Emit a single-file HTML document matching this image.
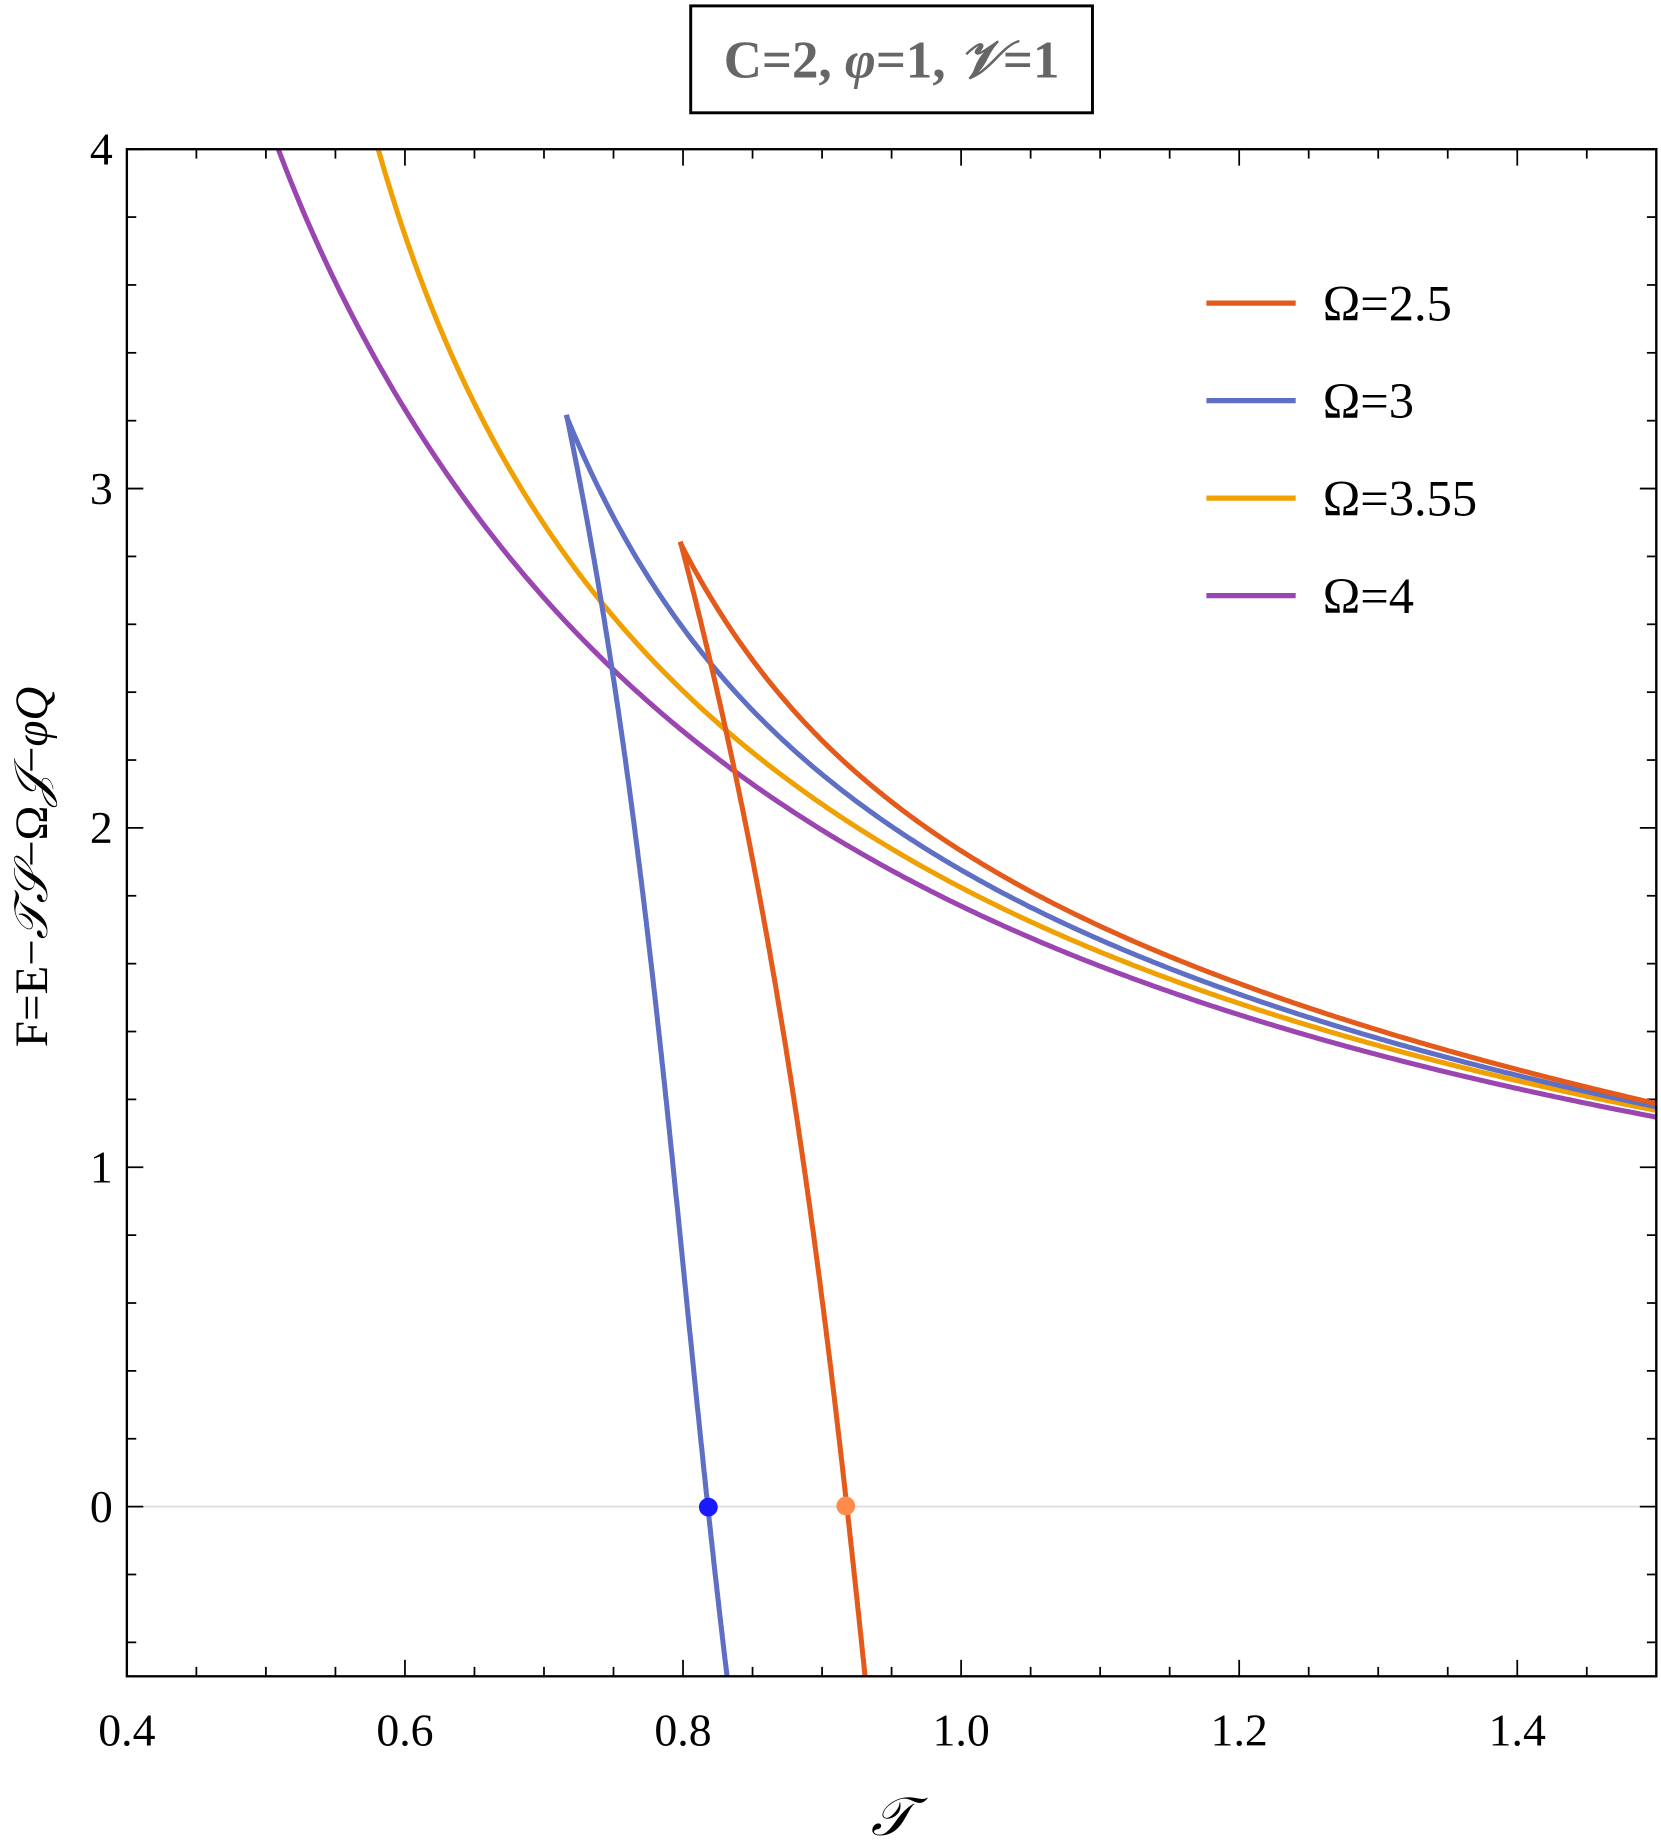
<!DOCTYPE html>
<html><head><meta charset="utf-8"><style>html,body{margin:0;padding:0;background:#fff}svg{display:block}</style></head>
<body>
<svg width="1661" height="1845" viewBox="0 0 1414 1570.6" xmlns="http://www.w3.org/2000/svg" font-family="Liberation Serif, serif">
<defs><clipPath id="cp"><rect x="108" y="127" width="1302" height="1300"/></clipPath></defs>
<rect x="588" y="5" width="342" height="91" fill="#fff" stroke="#000" stroke-width="2.5"/>
<text x="759" y="66" text-anchor="middle" font-size="45" font-weight="bold" fill="#666">C=2, <tspan font-style="italic">φ</tspan>=1, <tspan font-style="italic">𝒱</tspan>=1</text>
<line x1="108" y1="1282.6" x2="1410" y2="1282.6" stroke="#ddd" stroke-width="1.5"/>
<g id="ticks" stroke="#000" stroke-width="1.5"></g>
<g id="curves" fill="none" stroke-width="4.3" stroke-linejoin="round" clip-path="url(#cp)"></g>
<circle cx="603" cy="1283" r="8" fill="#1a1aff"/>
<circle cx="720" cy="1282" r="8" fill="#ff8c4a"/>
<rect x="108" y="127" width="1302" height="1300" fill="none" stroke="#000" stroke-width="2"/>
<g stroke-width="4.5">
<line x1="1027" y1="258" x2="1103" y2="258" stroke="#e35a1a"/>
<line x1="1027" y1="341" x2="1103" y2="341" stroke="#5e6fc4"/>
<line x1="1027" y1="424" x2="1103" y2="424" stroke="#f0a000"/>
<line x1="1027" y1="507" x2="1103" y2="507" stroke="#9b45b0"/>
</g>
<g font-size="43" fill="#000">
<text x="1126" y="273">Ω=2.5</text>
<text x="1126" y="356">Ω=3</text>
<text x="1126" y="439">Ω=3.55</text>
<text x="1126" y="522">Ω=4</text>
</g>
<g font-size="39" text-anchor="middle" id="xl"></g>
<g font-size="39" text-anchor="end" id="yl"></g>
<text x="759" y="1562" font-size="46" font-style="italic" text-anchor="middle">𝒯</text>
<text transform="translate(40,738) rotate(-90)" font-size="40" text-anchor="middle">F=E−<tspan font-style="italic">𝒯𝒮</tspan>−Ω<tspan font-style="italic">𝒥</tspan>−<tspan font-style="italic">φQ</tspan></text>
</svg>
<script>
var ns="http://www.w3.org/2000/svg",t=document.getElementById("ticks"),xl=document.getElementById("xl"),yl=document.getElementById("yl");
function L(a,b,c,d){var l=document.createElementNS(ns,"line");l.setAttribute("x1",a);l.setAttribute("y1",b);l.setAttribute("x2",c);l.setAttribute("y2",d);t.appendChild(l);}
function X(v){return 108+(v-0.4)/1.1*1302;}function Y(v){return 127+(4-v)/4.5*1300;}
for(var i=8;i<=30;i++){var v=i*0.05,x=X(v),M=(i%4==0),len=M?14:8;L(x,1427,x,1427-len);L(x,127,x,127+len);
if(M){var s=document.createElementNS(ns,"text");s.setAttribute("x",x);s.setAttribute("y",1486);s.textContent=v.toFixed(1);xl.appendChild(s);}}
for(var j=-2;j<=20;j++){var v=j*0.2,y=Y(v),M=(j%5==0),len=M?14:8;L(108,y,108+len,y);L(1410,y,1410-len,y);
if(M){var s=document.createElementNS(ns,"text");s.setAttribute("x",96);s.setAttribute("y",y+13);s.textContent=Math.round(v);yl.appendChild(s);}}
function solve(A,b){var n=b.length;for(var i=0;i!=n;i++){var m=i;for(var r=i+1;r!=n;r++)if(Math.abs(A[r][i])>Math.abs(A[m][i]))m=r;
var tt=A[i];A[i]=A[m];A[m]=tt;tt=b[i];b[i]=b[m];b[m]=tt;for(var r=0;r!=n;r++){if(r==i)continue;var f=A[r][i]/A[i][i];for(var c=i;c!=n;c++)A[r][c]-=f*A[i][c];b[r]-=f*b[i];}}
var x=[];for(var i=0;i!=n;i++)x.push(b[i]/A[i][i]);return x;}
function fit(pts,basis){var n=basis(pts[0][0]).length,A=[],b=[];for(var i=0;i!=n;i++){A.push(new Array(n).fill(0));b.push(0);}
pts.forEach(function(p){var w=p[2]||1,f=basis(p[0]);for(var i=0;i!=n;i++){b[i]+=w*f[i]*p[1];for(var j=0;j!=n;j++)A[i][j]+=w*f[i]*f[j];}});
var c=solve(A,b);return function(x){var f=basis(x),s=0;for(var i=0;i!=n;i++)s+=c[i]*f[i];return s;};}
var bu=function(x){var u=1000/x;return [1,u,u*u,u*u*u];};
var bl=function(y){var u=y/1000;return [1,u,u*u,u*u*u];};
var g=document.getElementById("curves");
function path(col,d){var p=document.createElementNS(ns,"path");p.setAttribute("d",d);p.setAttribute("stroke",col);g.appendChild(p);}
function upper(col,pts,x0){var f=fit(pts,bu),d="";for(var x=x0;x<=1412;x+=3){d+=(d?" L":"M")+x.toFixed(1)+","+f(x).toFixed(1);}return d;}
function lower(pts,y0){var sw=pts.map(function(p){return [p[1],p[0],p[2]];});var f=fit(sw,bl),d="";for(var y=y0;y<=1430;y+=3){d+=(d?" L":"M")+f(y).toFixed(1)+","+y.toFixed(1);}return d;}
path("#9b45b0",upper("",[[237,127,3],[280,232],[323,305],[366,386],[409,443],[463,508],[596,634],[653,678],[709,712],[794,760],[902,807],[1107,877],[1260,922],[1410,951,3]],225));
path("#f0a000",upper("",[[322,127,3],[346,204],[375,281],[398,332],[437,403],[465,448],[508,508],[596,602],[633,636],[704,690],[766,726],[846,766],[902,796],[1107,870],[1260,915],[1410,945,3]],312));
path("#5e6fc4",upper("",[[482,353,5],[508,417],[562,508],[630,590],[693,653],[766,709],[846,758],[902,782],[1107,863],[1260,913],[1410,941,3]],482));
path("#5e6fc4",lower([[482,353,5],[500,437],[512,508],[522,575],[533,659],[542,715],[557,850],[578,1050],[603,1283,5],[618,1427]],353));
path("#e35a1a",upper("",[[579,461,5],[603,510],[653,582],[709,636],[766,687],[846,741],[902,770],[1107,856],[1260,908],[1410,938,3]],579));
path("#e35a1a",lower([[579,461,5],[593,510],[613,596],[630,681],[653,814],[670,900],[690,1010],[705,1130],[720,1282,5],[738,1427]],461));
</script>
</body></html>
